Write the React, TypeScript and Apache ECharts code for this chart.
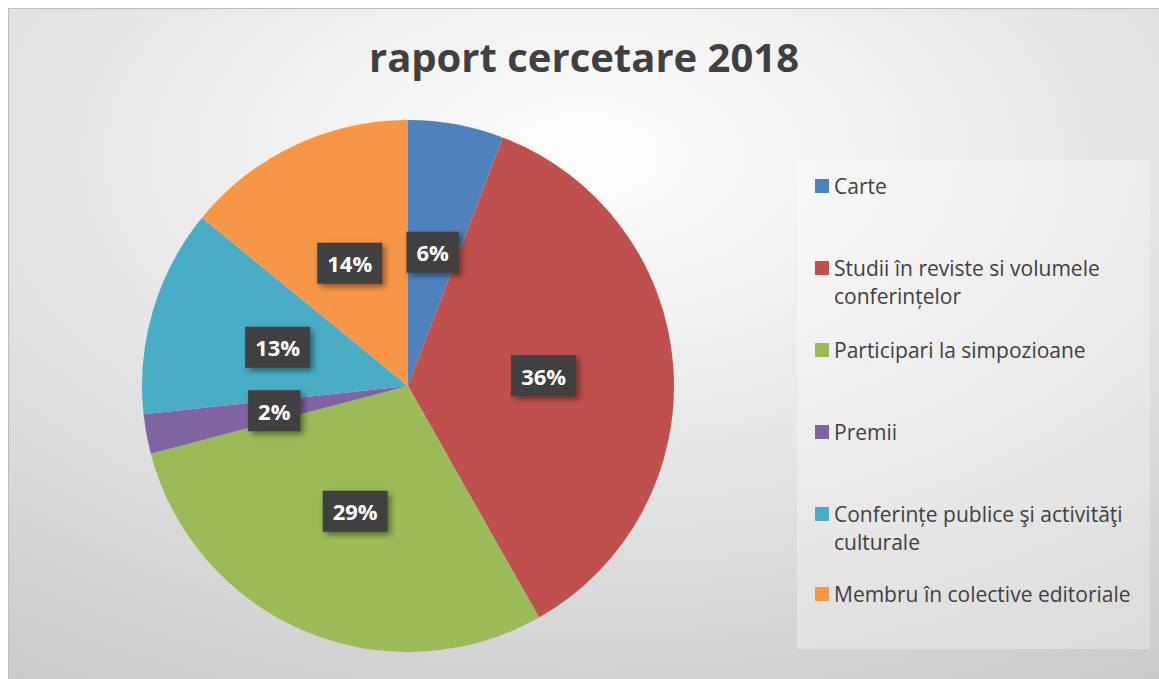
import React, { useEffect, useRef } from "react";
import * as echarts from "echarts";

const titleText = "raport cercetare 2018";
const categories = [
  "Carte",
  "Studii în reviste si volumele conferințelor",
  "Participari la simpozioane",
  "Premii",
  "Conferințe publice şi activităţi culturale",
  "Membru în colective editoriale",
];
const legendLabels = [
  "Carte",
  "\nStudii în reviste si volumele\nconferințelor",
  "Participari la simpozioane",
  "Premii",
  "\nConferințe publice şi activităţi\nculturale",
  "Membru în colective editoriale",
];
const values = [5.8, 36.0, 29.1, 2.4, 12.6, 14.1];
const colors = ["#4F81BD", "#C0504D", "#9BBB59", "#8064A2", "#4BACC6", "#F79646"];

const FONT = "'Open Sans', 'Noto Sans', sans-serif";
const legendTops = [163, 217, 327, 409, 463, 571];

export default function App() {
  const ref = useRef<HTMLDivElement>(null);
  useEffect(() => {
    if (!ref.current) return;
    const chart = echarts.init(ref.current, null, { renderer: "svg" });
    const legends = categories.map((name, i) => ({
      orient: "vertical",
      left: 806,
      top: legendTops[i],
      padding: 0,
      itemWidth: 14,
      itemHeight: 14,
      itemGap: 0,
      icon: "rect",
      selectedMode: false,
      formatter: (n: string) => legendLabels[categories.indexOf(n)],
      textStyle: {
        fontSize: 21,
        lineHeight: 28,
        color: "#404040",
        fontFamily: FONT,
      },
      data: [{ name }],
    }));
    chart.setOption({
      animation: false,
      backgroundColor: {
        type: "radial",
        x: 0.5,
        y: 0.22,
        r: 1.1,
        colorStops: [
          { offset: 0, color: "#fdfdfd" },
          { offset: 0.2, color: "#f3f3f3" },
          { offset: 0.51, color: "#e0e0e0" },
          { offset: 0.66, color: "#d5d5d5" },
          { offset: 0.78, color: "#cdcdcd" },
          { offset: 1, color: "#c4c4c4" },
        ],
      },
      color: colors,
      title: {
        text: titleText,
        left: "center",
        top: 27,
        padding: 0,
        textStyle: { fontSize: 40, fontWeight: "bold", color: "#404040", fontFamily: FONT },
      },
      graphic: [
        {
          type: "rect",
          shape: { x: 788, y: 151, width: 353, height: 489 },
          style: { fill: "rgba(255,255,255,0.3)" },
          silent: true,
          z: -1,
        },
      ],
      legend: legends,
      series: [
        {
          type: "pie",
          center: [399, 377],
          radius: 266,
          startAngle: 90,
          clockwise: true,
          percentPrecision: 0,
          avoidLabelOverlap: false,
          label: {
            show: true,
            position: "inside",
            formatter: "{d}%",
            fontSize: 22,
            fontWeight: "bold",
            fontFamily: FONT,
            color: "#ffffff",
            backgroundColor: "#3f3f3f",
            padding: [10, 10, 9, 10],
            shadowColor: "rgba(0,0,0,0.45)",
            shadowBlur: 6,
            shadowOffsetX: 3,
            shadowOffsetY: 3,
          },
          labelLine: { show: false },
          itemStyle: { borderWidth: 0 },
          emphasis: { disabled: true },
          data: categories.map((name, i) => ({ name, value: values[i] })),
        },
      ],
    });
    return () => chart.dispose();
  }, []);
  return (
    <div
      style={{
        position: "absolute",
        left: 8,
        top: 8,
        width: 1151,
        height: 671,
        boxSizing: "border-box",
        borderTop: "1px solid #bdbdbd",
        borderLeft: "1px solid #bdbdbd",
      }}
    >
      <div ref={ref} style={{ width: 1150, height: 670 }} />
    </div>
  );
}
